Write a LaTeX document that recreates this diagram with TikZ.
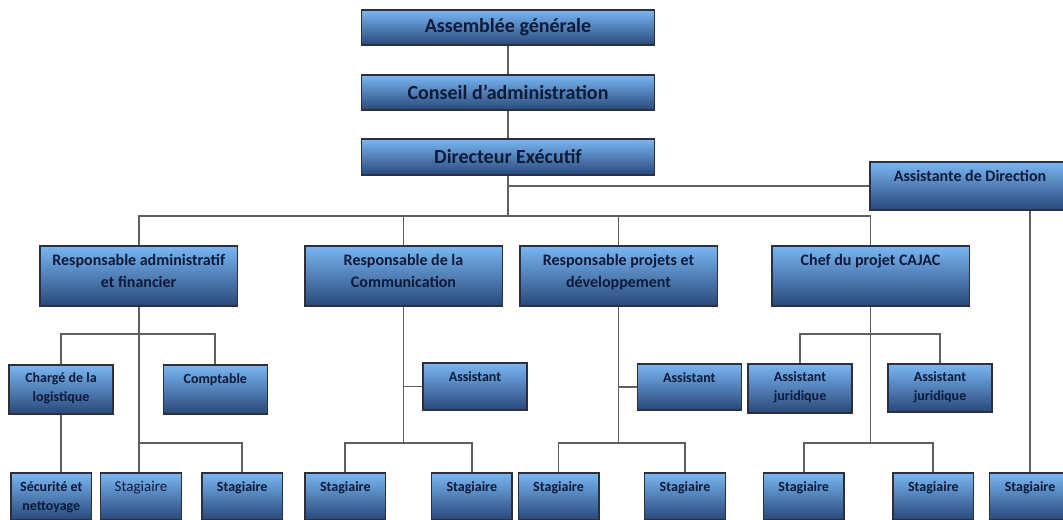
\documentclass[tikz,border=0pt]{standalone}
\usepackage{fontspec}
\setmainfont{Carlito}
\usetikzlibrary{positioning}
\definecolor{boxtop}{RGB}{122,182,242}
\definecolor{boxmid}{RGB}{88,142,212}
\definecolor{boxbot}{RGB}{40,72,122}
\definecolor{boxline}{RGB}{45,48,60}
\definecolor{boxtext}{RGB}{13,26,58}
\definecolor{wire}{RGB}{95,95,95}
\tikzset{
  box/.style={draw=boxline, line width=0.7pt, top color=boxtop, middle color=boxmid, bottom color=boxbot, inner sep=0pt},
  head/.style={box, minimum width=146.5pt, minimum height=17.5pt, text=boxtext, font=\fontsize{10}{12}\selectfont\bfseries},
  dept/.style={box, minimum width=98.7pt, minimum height=30pt},
  staff/.style={box, minimum width=52pt, minimum height=24.5pt},
  intern/.style={box, minimum width=40.3pt, minimum height=23.5pt},
  depttxt/.style={text=boxtext, align=center, inner sep=0pt, font=\fontsize{8}{11}\selectfont\bfseries},
  stafftxt/.style={text=boxtext, align=center, inner sep=0pt, font=\fontsize{7}{9.5}\selectfont\bfseries},
  link/.style={draw=wire, line width=0.9pt}
}
\begin{document}
\begin{tikzpicture}[x=0.5pt,y=-0.5pt]
       \useasboundingbox[fill=white] (0,0) rectangle (1063,519);

       \coordinate(B1) at (0,216);
       \coordinate(B2) at (0,334);
       \coordinate(B3) at (0,443);

       \node(AG)[head] at (508,27.5) {Assemblée générale};
       \node(CA)[head] at (508,92.5) {Conseil d’administration};
       \node(DE)[head, minimum height=18pt] at (508,157) {Directeur Exécutif};

       \draw[link] (AG) -- (CA);
       \draw[link] (CA) -- (DE);

       \node(AD)[box, minimum width=100pt, minimum height=24pt] at (970,186) {};
       \node(NAD)[depttxt, below = 4.2pt of AD.north] {Assistante de Direction};

       \draw[link] (DE) -- (DE |- B1);
       \draw[link] (DE |- AD) -- (AD);

       \node(RA)[dept] at (138.7,276) {};
       \node(NRA)[depttxt, below = 4.2pt of RA.north] {Responsable administratif\\et financier};

       \node(RC)[dept] at (403.5,276) {};
       \node(NRC)[depttxt, below = 4.2pt of RC.north] {Responsable de la\\Communication};

       \node(RP)[dept] at (618.5,276) {};
       \node(NRP)[depttxt, below = 4.2pt of RP.north] {Responsable projets et\\développement};

       \node(CP)[dept] at (870.5,276) {};
       \node(NCP)[depttxt, below = 4.2pt of CP.north] {Chef du projet CAJAC};

       \draw[link] (RA) |- (CP |- B1) -- (CP);
       \draw[link] (RC) -- (RC |- B1);
       \draw[link] (RP) -- (RP |- B1);

       \node(CL)[staff] at (61,389.5) {};
       \node(NCL)[stafftxt, below = 3.8pt of CL.north] {Chargé de la\\logistique};

       \node(CO)[staff] at (215.3,389.5) {};
       \node(NCO)[stafftxt, below = 4.6pt of CO.north] {Comptable};

       \node(SN)[intern] at (51.3,496.5) {};
       \node(NSN)[stafftxt, below = 4.6pt of SN.north] {Sécurité et\\nettoyage};

       \node(S1)[intern] at (141,496.5) {};
       \node(NS1)[stafftxt, font=\fontsize{7.5}{9.5}\selectfont, below = 4.4pt of S1.north] {Stagiaire};

       \node(S2)[intern] at (242.2,496.5) {};
       \node(NS2)[stafftxt, below = 4.6pt of S2.north] {Stagiaire};

       \draw[link] (RA) -- (RA |- S1.north);
       \draw[link] (CL) |- (RA |- B2) -| (CO);
       \draw[link] (CL) -- (CL |- SN.north);
       \draw[link] (RA |- B3) -| (S2);

       \node(A1)[staff, minimum height=23.5pt] at (475,386.5) {};
       \node(NA1)[stafftxt, below = 4.6pt of A1.north] {Assistant};

       \node(S3)[intern] at (345.3,496.5) {};
       \node(NS3)[stafftxt, below = 4.6pt of S3.north] {Stagiaire};

       \node(S4)[intern] at (471.8,496.5) {};
       \node(NS4)[stafftxt, below = 4.6pt of S4.north] {Stagiaire};

       \draw[link] (RC) -- (RC |- B3);
       \draw[link] (RC |- A1) -- (A1);
       \draw[link] (S3) |- (RC |- B3) -| (S4);

       \node(A2)[staff, minimum height=23pt] at (689.3,387) {};
       \node(NA2)[stafftxt, below = 4.6pt of A2.north] {Assistant};

       \node(S5)[intern] at (558.5,496.5) {};
       \node(NS5)[stafftxt, below = 4.6pt of S5.north] {Stagiaire};

       \node(S6)[intern] at (685,496.5) {};
       \node(NS6)[stafftxt, below = 4.6pt of S6.north] {Stagiaire};

       \draw[link] (RP) -- (RP |- B3);
       \draw[link] (RP |- A2) -- (A2);
       \draw[link] (S5) |- (RP |- B3) -| (S6);

       \node(J1)[staff] at (800,388.5) {};
       \node(NJ1)[stafftxt, below = 3.8pt of J1.north] {Assistant\\juridique};

       \node(J2)[staff, minimum height=24pt] at (940,388) {};
       \node(NJ2)[stafftxt, below = 3.8pt of J2.north] {Assistant\\juridique};

       \node(S7)[intern] at (803.7,496.5) {};
       \node(NS7)[stafftxt, below = 4.6pt of S7.north] {Stagiaire};

       \node(S8)[intern] at (933.3,496.5) {};
       \node(NS8)[stafftxt, below = 4.6pt of S8.north] {Stagiaire};

       \draw[link] (CP) -- (CP |- B3);
       \draw[link] (J1) |- (CP |- B2) -| (J2);
       \draw[link] (S7) |- (CP |- B3) -| (S8);

       \node(SF)[intern] at (1030,496.5) {};
       \node(NSF)[stafftxt, below = 4.6pt of SF.north] {Stagiaire};

       \draw[link] (AD.south -| SF) -- (SF);
\end{tikzpicture}
\end{document}
